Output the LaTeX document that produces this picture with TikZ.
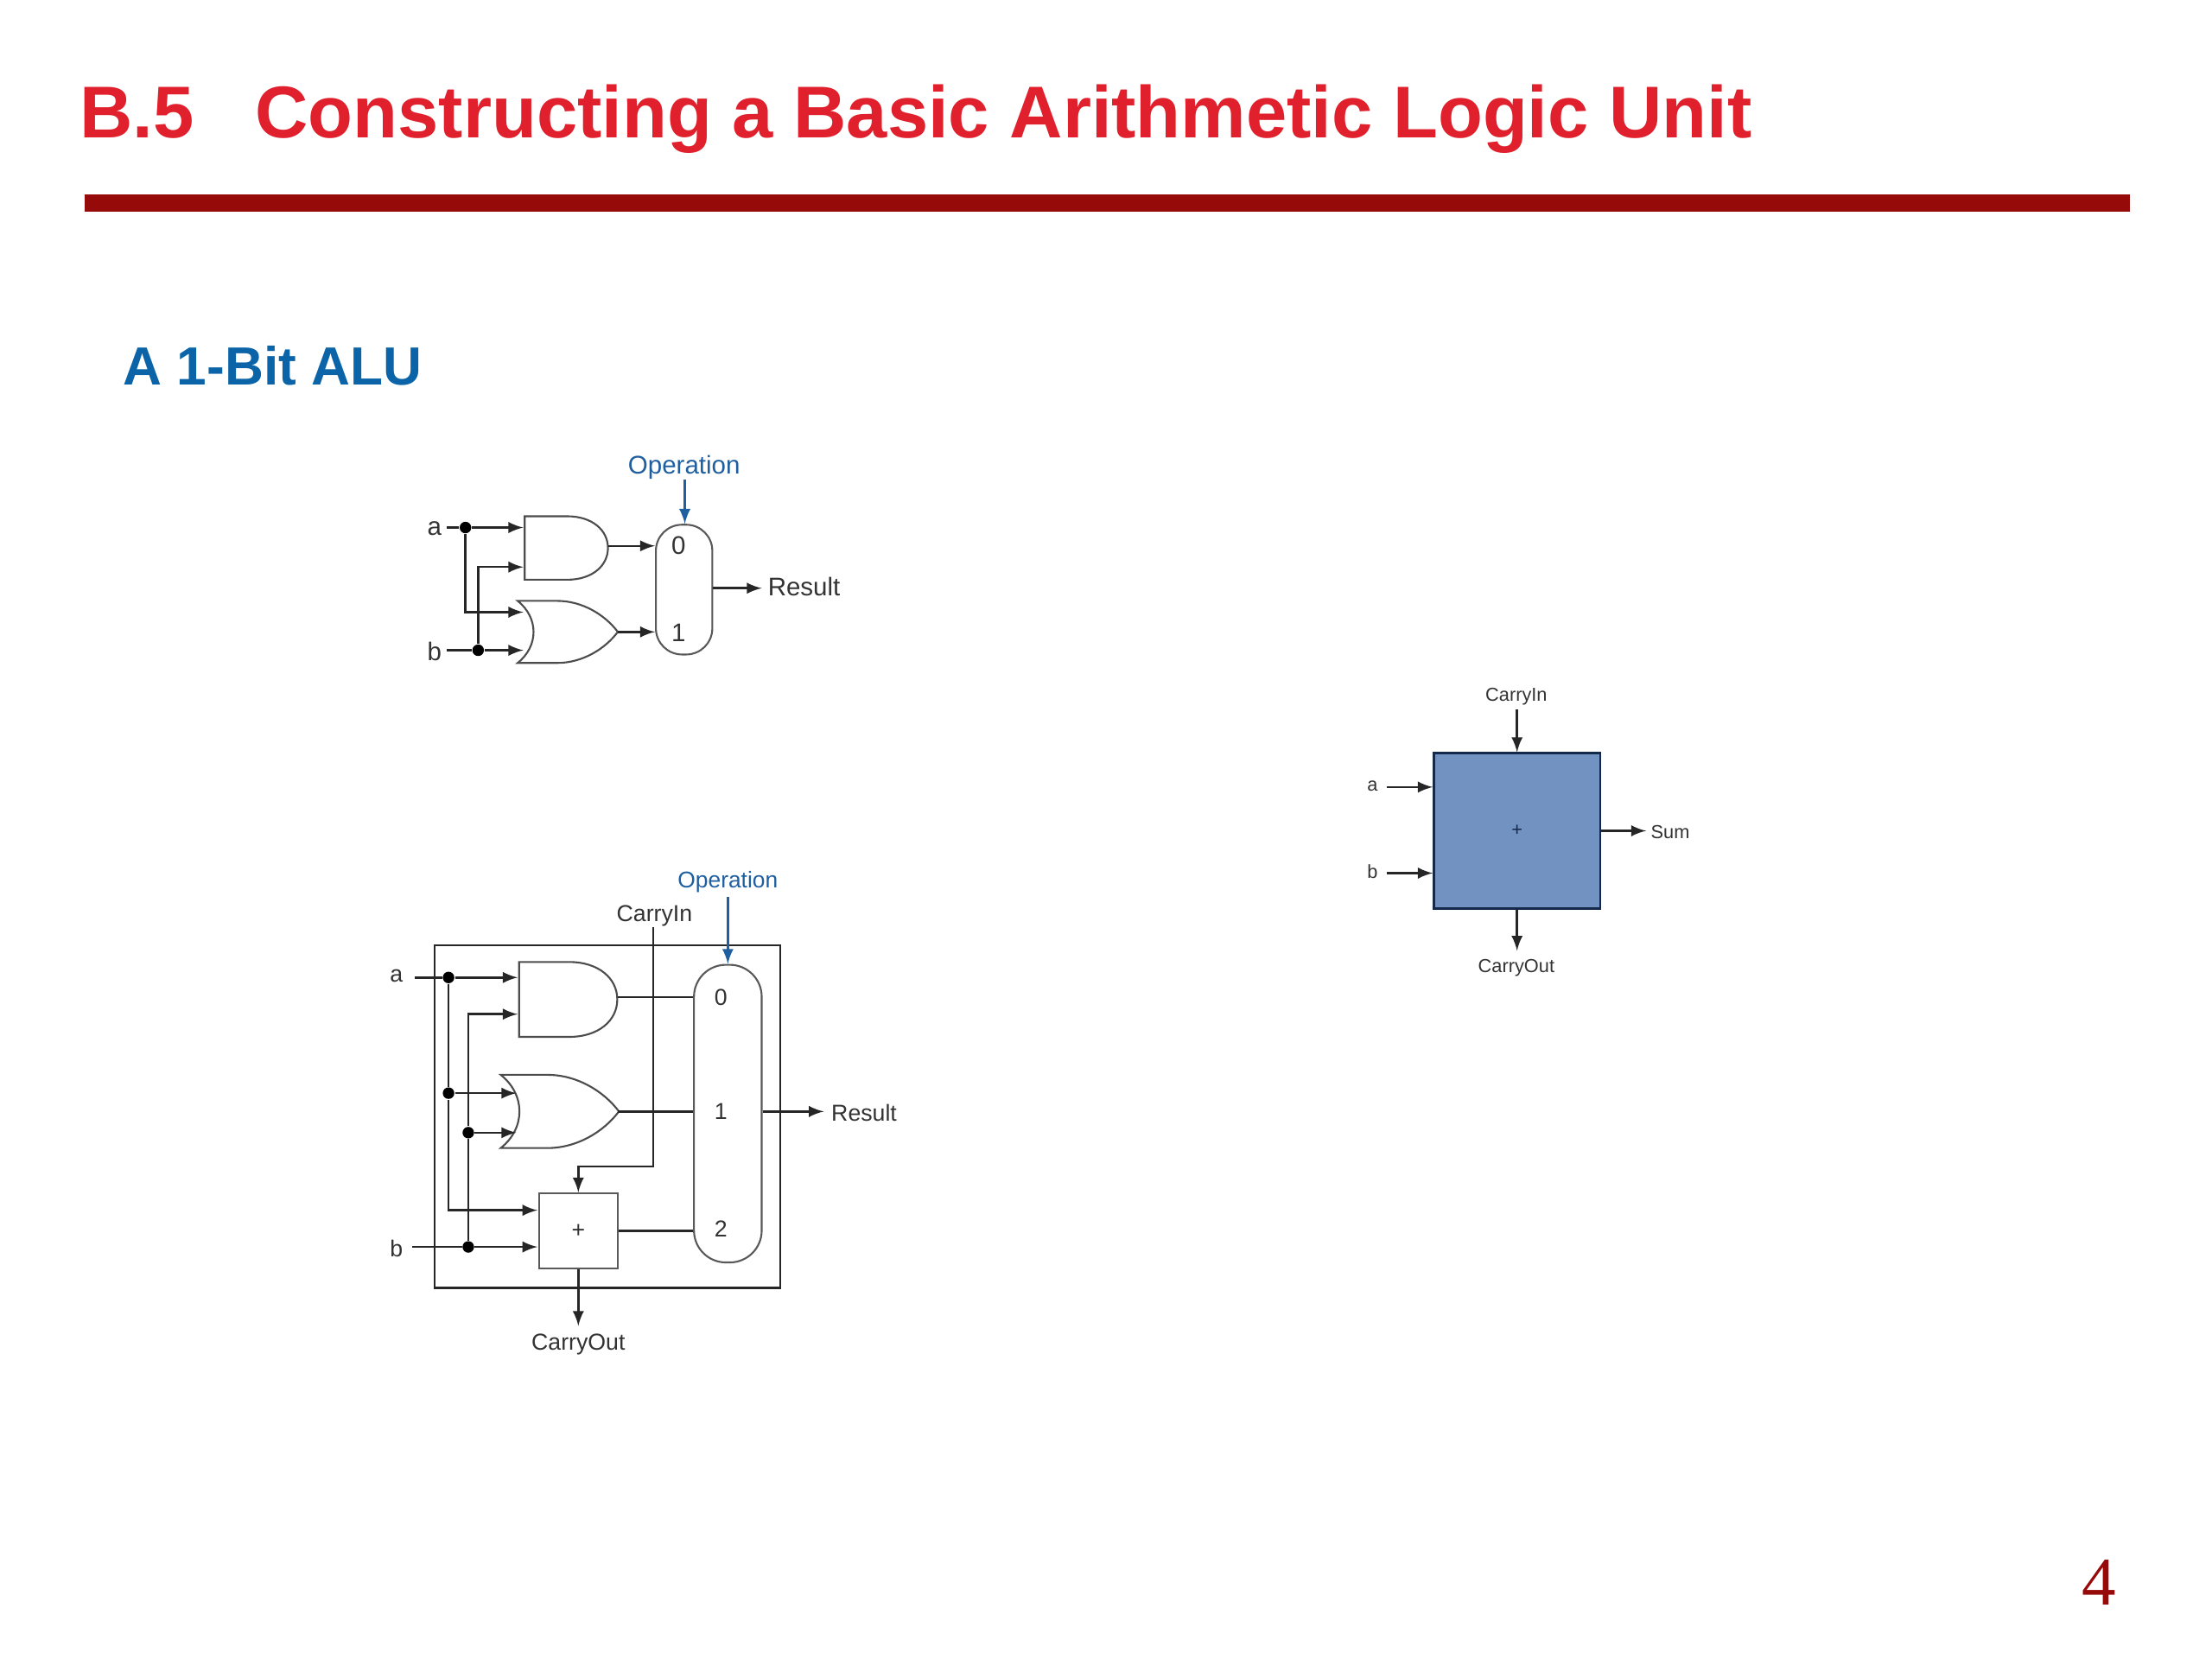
\documentclass[tikz,border=0pt]{standalone}
\usepackage{fontspec}
\setmainfont{Liberation Sans}
\newfontfamily\serifnum{Liberation Serif}
\usepackage{xcolor}
\usetikzlibrary{positioning}

\definecolor{titlered}{HTML}{E0202C}
\definecolor{rulered}{HTML}{970A0A}
\definecolor{headblue}{HTML}{0B64A8}
\definecolor{opblue}{HTML}{1F5F9F}
\definecolor{inktext}{HTML}{333333}
\definecolor{boxfill}{HTML}{7293C1}
\definecolor{boxline}{HTML}{14284A}

\def\pxu{0.016325cm}

\tikzset{
  wire/.style={->, >=latex, line width=0.7pt, black!85},
  plainwire/.style={line width=0.7pt, black!85},
  opwire/.style={->, >=latex, line width=0.7pt, opblue},
  gate/.style={line width=0.6pt, black!70, fill=white},
  dot/.style={circle, fill=black, inner sep=0pt, minimum size=3.8pt},
  lbl/.style={text=inktext, font=\fontsize{8.4}{10}\selectfont, inner sep=0pt, yshift=-0.4pt},
  lblb/.style={text=inktext, font=\fontsize{7.6}{10}\selectfont, inner sep=0pt, yshift=-0.5pt},
  oplbl/.style={text=opblue, font=\fontsize{8.4}{10}\selectfont, inner sep=0pt, yshift=-0.7pt},
  oplblb/.style={text=opblue, font=\fontsize{7.5}{10}\selectfont, inner sep=0pt, yshift=-0.7pt},
  tiny/.style={text=inktext, font=\fontsize{6.2}{8}\selectfont, inner sep=0pt, yshift=-0.5pt},
  mux/.style={draw=black!65, line width=0.6pt, fill=white, rounded corners=#1, inner sep=0pt},
  andgate/.pic={\draw[gate] (0,0) -- (30,0) .. controls (48,0) and (59,10) .. (59,22.5)
    .. controls (59,35) and (48,45) .. (30,45) -- (0,45) -- cycle;},
  orgate/.pic={\draw[gate] (0,0) -- (28,0) .. controls (46,0) and (62,10) .. (71,22)
    .. controls (62,34) and (46,44) .. (28,44) -- (0,44)
    .. controls (15,32) and (15,12) .. (0,0) -- cycle;}
}

\begin{document}
\begin{tikzpicture}[x=\pxu, y=-\pxu]
\useasboundingbox (0,0) rectangle (1568.2,1176.1);

% heading
\node[anchor=base west, inner sep=0pt, text=titlered, font=\fontsize{24.17}{30}\selectfont\bfseries] (title) at (56,98) {B.5\hspace{0.84em}Constructing a Basic Arithmetic Logic Unit};
\fill[rulered] (60,138) rectangle (1510,150);
\node[anchor=base west, inner sep=0pt, text=headblue, font=\fontsize{17.7}{24}\selectfont\bfseries] (sub) at (87,273) {A 1-Bit ALU};
\node[text=rulered, inner sep=0pt, font=\fontsize{22.5}{30}\selectfont\serifnum] (pagenum) at (1488,1122) {4};

% first circuit
\pic at (372,366) {andgate};
\pic at (367,426) {orgate};
\node[mux=8.6pt, minimum width=40*\pxu, minimum height=92*\pxu] (muxa) at (485,418) {};
\node[lbl] (la) at (308,374) {a};
\node[lbl] (lb) at (308,461) {b};
\node[lbl, anchor=west] (resa) at (544,415) {Result};
\node[oplbl] (opa) at (485,330) {Operation};
\node[lbl] (mza) at (481,386) {0};
\node[lbl] (moa) at (481,448) {1};

\node[dot] (da) at (330,374) {};
\node[dot] (db) at (339,461) {};
\coordinate (ina) at (317,374);
\coordinate (inb) at (317,461);
\coordinate (anda) at (371,374);
\coordinate (andb) at (371,402);
\coordinate (ora) at (371,434);
\coordinate (orb) at (371,461);
\coordinate (andout) at (431,387);
\coordinate (orout) at (438,448);
\coordinate (resend) at (540,417);
\coordinate (optop) at (485.5,340);

\draw[plainwire] (ina) -- (da);
\draw[plainwire] (inb) -- (db);
\draw[wire] (da) -- (anda);
\draw[wire] (db) -- (orb);
\draw[wire] (da) |- (ora);
\draw[wire] (db) |- (andb);
\draw[wire] (andout) -- (andout -| muxa.west);
\draw[wire] (orout) -- (orout -| muxa.west);
\draw[wire] (muxa.east |- resend) -- (resend);
\draw[opwire] (optop) -- (optop |- muxa.north);

% second circuit
\draw[line width=0.7pt, black!85] (308,670) rectangle (553,913);
\pic[scale=1.18] at (368,682) {andgate};
\pic[scale=1.18] at (355,762) {orgate};
\node[mux=10.5pt, minimum width=48*\pxu, minimum height=211*\pxu] (muxb) at (516,789.5) {};
\node[draw=black!65, line width=0.6pt, fill=white, minimum width=56*\pxu, minimum height=53*\pxu, inner sep=0pt, font=\fontsize{7.6}{10}\selectfont, text=inktext] (adder) at (410,872.5) {+};
\node[lblb] (lc) at (281,691) {a};
\node[lblb] (ld) at (281,884) {b};
\node[lblb] (cin) at (464,648) {CarryIn};
\node[lblb] (cout) at (410,952) {CarryOut};
\node[lblb, anchor=west] (resb) at (589,788) {Result};
\node[oplblb] (opb) at (516,624) {Operation};
\node[lblb] (mzb) at (511,706) {0};
\node[lblb] (mob) at (511,787) {1};
\node[lblb] (mtb) at (511,870) {2};

\node[dot] (dc) at (318,693) {};
\node[dot] (dd) at (318,775) {};
\node[dot] (de) at (332,803) {};
\node[dot] (df) at (332,884) {};
\coordinate (inc) at (294,693);
\coordinate (ind) at (292,884);
\coordinate (andc) at (367,693);
\coordinate (andd) at (367,719);
\coordinate (orc) at (366,775);
\coordinate (ord) at (366,803);
\coordinate (addc) at (381,858);
\coordinate (addd) at (381,884);
\coordinate (andoutb) at (438,707);
\coordinate (oroutb) at (438,788);
\coordinate (cintop) at (463,657);
\coordinate (cinturn) at (463,827);
\coordinate (coutend) at (410,940);
\coordinate (resendb) at (584,788);
\coordinate (optopb) at (516,636);

\draw[plainwire] (inc) -- (dc);
\draw[plainwire] (ind) -- (df);
\draw[wire] (dc) -- (andc);
\draw[wire] (df) -- (addd);
\draw[wire] (dd) -- (orc);
\draw[wire] (de) -- (ord);
\draw[plainwire] (dc) -- (dd);
\draw[wire] (dd) |- (addc);
\draw[plainwire] (df) -- (de);
\draw[wire] (de) |- (andd);
\draw[plainwire] (andoutb) -- (andoutb -| muxb.west);
\draw[plainwire] (oroutb) -- (oroutb -| muxb.west);
\draw[plainwire] (adder.east) -- (adder.east -| muxb.west);
\draw[wire] (cintop) -- (cinturn) -| (adder.north);
\draw[wire] (adder.south) -- (coutend);
\draw[wire] (muxb.east |- resendb) -- (resendb);
\draw[opwire] (optopb) -- (optopb |- muxb.north);

% blue block
\node[draw=boxline, line width=0.7pt, fill=boxfill, minimum width=118*\pxu, minimum height=110*\pxu, inner sep=0pt, font=\fontsize{6.2}{8}\selectfont, text=boxline] (alu) at (1075.5,589) {+};
\node[tiny] (ci) at (1075,493) {CarryIn};
\node[tiny] (co) at (1075,685) {CarryOut};
\node[tiny] (le) at (973,556) {a};
\node[tiny] (lf) at (973,617) {b};
\node[tiny, anchor=west] (sum) at (1170,589) {Sum};
\coordinate (citop) at (1075.5,503);
\coordinate (coend) at (1075.5,674);
\coordinate (ine) at (983,558);
\coordinate (inf) at (983,619);
\coordinate (sumend) at (1167,589);

\draw[wire] (citop) -- (alu.north);
\draw[wire] (alu.south) -- (coend);
\draw[wire] (ine) -- (ine -| alu.west);
\draw[wire] (inf) -- (inf -| alu.west);
\draw[wire] (alu.east) -- (sumend);

\end{tikzpicture}
\end{document}
